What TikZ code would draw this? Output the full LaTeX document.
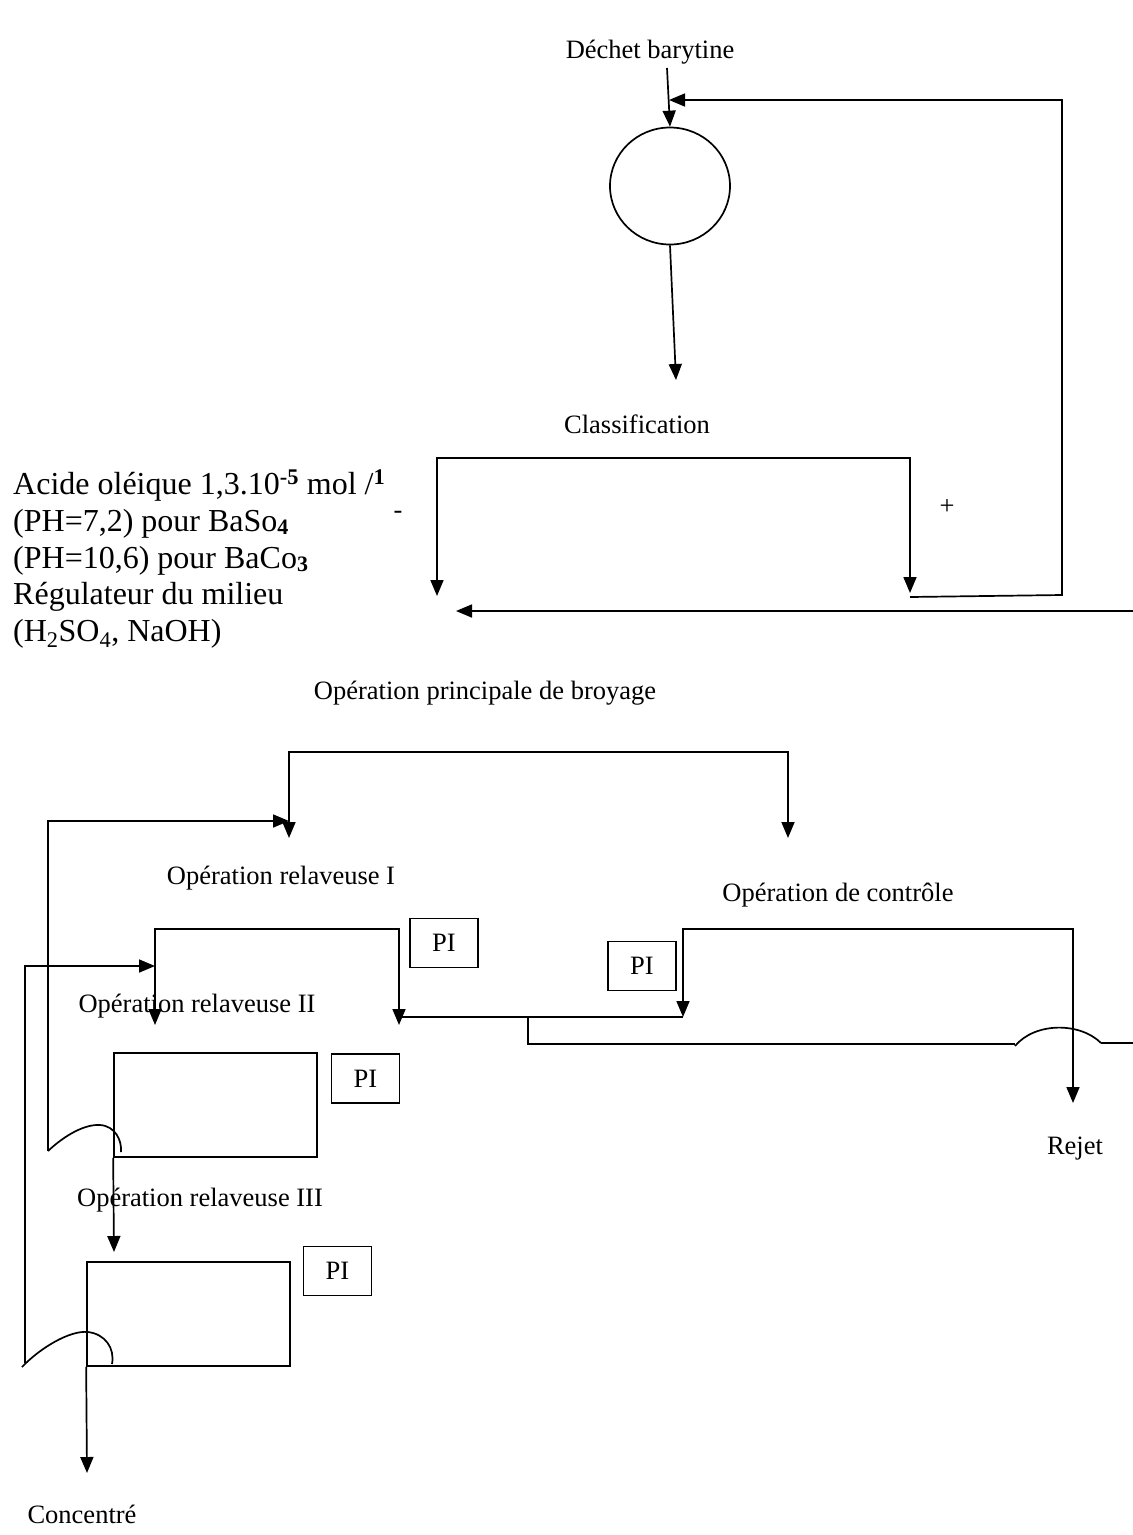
\documentclass[tikz,border=0pt]{standalone}
\usepackage{fontspec}
\setmainfont{Liberation Serif}
\usetikzlibrary{arrows.meta,shapes.geometric}
\begin{document}
\begin{tikzpicture}[x=1pt,y=-1pt,
  ln/.style={line width=1.7pt},
  arr/.style={ln,-{Triangle[length=16pt,width=13pt]}},
  arrboth/.style={ln,{Triangle[length=16pt,width=13pt]}-{Triangle[length=16pt,width=13pt]}},
  lbl/.style={font=\fontsize{26.5}{30}\selectfont, inner sep=0},
  big/.style={font=\fontsize{32}{36}\selectfont, inner sep=0, anchor=base west},
  pibox/.style={draw, line width=1.6pt, minimum width=68pt, minimum height=49pt, inner sep=0, font=\fontsize{26.5}{30}\selectfont},
  tank/.style={draw, line width=1.7pt, inner sep=0, minimum width=203pt, minimum height=104pt},
]
\useasboundingbox (0,0) rectangle (1133,1535);

% ---- top: feed and cyclone
\node[lbl] (dechet) at (650,52) {Déchet barytine};
\node[draw, ellipse, ln, minimum width=120pt, minimum height=117pt, inner sep=0] (cyc) at (670,186) {};
\coordinate (inTop) at (667,68);
\draw[arr] (inTop) -- (cyc.north);
\coordinate (clsTip) at (676,380);
\draw[arr] (cyc.south) -- (clsTip);
\node[lbl] (cls) at (637,424) {Classification};

% ---- classification bracket
\coordinate (bL) at (437,596);
\coordinate (bLT) at (437,458);
\coordinate (bRT) at (910,458);
\coordinate (bR) at (910,593);
\draw[arrboth] (bL) -- (bLT) -- (bRT) -- (bR);
\node[lbl] (minus) at (398,515) {-};
\node[lbl] (plus) at (947,507) {+};

% ---- recycle of the + fraction to the feed
\coordinate (bRb) at (910,597);
\coordinate (fbBot) at (1062,595);
\coordinate (fbTop) at (1062,100);
\coordinate (fbIn) at (669,100);
\draw[arr] (bRb) -- (fbBot) -- (fbTop) -- (fbIn);

% ---- return arrow from the right
\coordinate (retR) at (1133,611);
\coordinate (retL) at (456,611);
\draw[arr] (retR) -- (retL);

% ---- reagents
\node[big] (r1) at (13,494) {Acide oléique 1,3.10\textsuperscript{\textbf{-5}} mol /\textsuperscript{\textbf{1}}};
\node[big] (r2) at (13,531) {(PH=7,2) pour BaSo\raisebox{-0.12em}{\fontsize{22}{22}\selectfont\textbf{4}}};
\node[big] (r3) at (13,568) {(PH=10,6) pour BaCo\raisebox{-0.12em}{\fontsize{22}{22}\selectfont\textbf{3}}};
\node[big] (r4) at (13,604) {Régulateur du milieu};
\node[big] (r5) at (13,641) {(H\textsubscript{2}SO\textsubscript{4}, NaOH)};

% ---- main grinding / flotation
\node[lbl] (broy) at (485,693) {Opération principale de broyage};
\coordinate (brL) at (289,838);
\coordinate (brLT) at (289,752);
\coordinate (brRT) at (788,752);
\coordinate (brR) at (788,838);
\draw[arrboth] (brL) -- (brLT) -- (brRT) -- (brR);

% ---- cleaner I
\node[lbl] (rel1) at (281,878) {Opération relaveuse I};
\node[pibox] (pi1) at (444,943) {PI};
\coordinate (b1L) at (155,1025);
\coordinate (b1LT) at (155,929);
\coordinate (b1RT) at (399,929);
\coordinate (b1R) at (399,1025);
\draw[arrboth] (b1L) -- (b1LT) -- (b1RT) -- (b1R);

% ---- control (scavenger)
\node[lbl] (ctrl) at (838,895) {Opération de contrôle};
\node[pibox] (pic) at (642,966) {PI};
\coordinate (kL) at (683,1017);
\coordinate (kLT) at (683,929);
\coordinate (kRT) at (1073,929);
\coordinate (kR) at (1073,1103);
\draw[arrboth] (kL) -- (kLT) -- (kRT) -- (kR);
\coordinate (h1) at (399,1017);
\draw[ln] (h1) -- (kL);
\node[lbl] (rejet) at (1075,1149) {Rejet};

% ---- tailings line with jump
\coordinate (lo1) at (528,1017);
\coordinate (lo2) at (528,1044);
\coordinate (jL) at (1015,1046);
\coordinate (jR) at (1101,1043);
\coordinate (loR) at (1133,1043);
\draw[ln] (lo1) -- (lo2) -- (1015,1044);
\draw[ln] (jL) .. controls (1035,1022) and (1080,1022) .. (jR);
\draw[ln] (jR) -- (loR);

% ---- cleaner II
\node[lbl] (rel2) at (197,1006) {Opération relaveuse II};
\node[tank] (t2) at (215.5,1105) {};
\node[pibox] (pi2) at (365.5,1078.5) {PI};
\coordinate (c2L) at (48,1151);
\coordinate (c2top) at (48,821);
\coordinate (c2tip) at (289,821);
\draw[arr] (c2L) -- (c2top) -- (c2tip);
\draw[ln] (c2L) .. controls (65,1135) and (85,1124) .. (100,1125) .. controls (115,1126) and (122,1140) .. (121,1152);

% ---- cleaner III
\coordinate (t3in) at (114,1252);
\draw[arr] (t2.south west) -- (t3in);
\node[lbl] (rel3) at (200,1200) {Opération relaveuse III};
\node[tank] (t3) at (188.5,1314) {};
\node[pibox] (pi3) at (337.5,1271) {PI};
\coordinate (c3L) at (25,1363);
\coordinate (c3top) at (25,966);
\coordinate (c3tip) at (155,966);
\draw[arr] (c3L) -- (c3top) -- (c3tip);
\draw[ln] (22,1367) .. controls (40,1348) and (70,1330) .. (88,1332) .. controls (105,1334) and (115,1348) .. (112,1364);

% ---- concentrate
\coordinate (conc) at (87,1473);
\draw[arr] (t3.south west) -- (conc);
\node[lbl] (concentre) at (82,1514) {Concentré};
\end{tikzpicture}
\end{document}
